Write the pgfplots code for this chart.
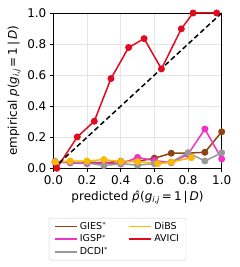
\documentclass[border=0pt]{standalone}
\usepackage{pgfplots}
\pgfplotsset{compat=1.18}
\usepackage{fontspec}
\setmainfont{DejaVu Sans}
\definecolor{cgies}{RGB}{139,69,19}
\definecolor{cigsp}{RGB}{240,50,200}
\definecolor{cdcdi}{RGB}{153,153,153}
\definecolor{cdibs}{RGB}{255,184,0}
\definecolor{cavici}{RGB}{225,10,30}
\tikzset{ser/.style={line width=1.5pt, mark=*, mark size=2.7pt, mark options={solid, fill=#1, draw=#1}, color=#1}}
\begin{document}
\begin{tikzpicture}
\begin{axis}[
  at={(0,0)}, anchor=south west,
  width=168.3pt, height=155.3pt, scale only axis,
  xmin=0, xmax=1, ymin=0, ymax=1,
  xtick={0,0.2,0.4,0.6,0.8,1.0}, ytick={0,0.2,0.4,0.6,0.8,1.0},
  /pgf/number format/assume math mode=true,
  /pgf/number format/fixed, /pgf/number format/fixed zerofill,
  /pgf/number format/precision=1,
  tick label style={font=\fontsize{12}{14}\selectfont},
  label style={font=\fontsize{12}{14}\selectfont},
  xtick pos=bottom, ytick pos=left, tick align=outside,
  major tick length=3.5pt,
  tick style={black, line width=0.8pt},
  axis line style={black, line width=0.8pt},
  grid=major, grid style={gray!20, line width=0.8pt},
  xlabel={predicted \textit{\^p}(\textit{g}\textsubscript{\textit{i},\textit{j}}\,=\,1\,|\,\textit{D})},
  ylabel={empirical \textit{p}(\textit{g}\textsubscript{\textit{i},\textit{j}}\,=\,1\,|\,\textit{D})},
  legend style={at={(0.381,-0.32)}, anchor=north, draw=gray!35, rounded corners=2pt,
    font=\fontsize{9.5}{11.5}\selectfont, inner xsep=5pt, inner ysep=2pt,
    /tikz/every even column/.append style={column sep=18pt}},
  legend columns=2, legend cell align=left,
  legend image code/.code={\draw[mark=none] (0pt,0pt) -- (22pt,0pt);},
]
\addlegendimage{color=cgies, line width=1.8pt}\addlegendentry{GIES$^*$}
\addlegendimage{color=cdibs, line width=1.8pt}\addlegendentry{DiBS}
\addlegendimage{color=cigsp, line width=1.8pt}\addlegendentry{IGSP$^*$}
\addlegendimage{color=cavici, line width=1.8pt}\addlegendentry{AVICI}
\addlegendimage{color=cdcdi, line width=1.8pt}\addlegendentry{DCDI$^*$}

\addplot[ser=cgies, forget plot] coordinates {(0.01,0.04) (0.1,0.04) (0.2,0.04) (0.3,0.035) (0.4,0.045) (0.5,0.045) (0.6,0.065) (0.7,0.097) (0.8,0.098) (0.9,0.103) (1.0,0.235)};
\addplot[ser=cigsp, forget plot] coordinates {(0.01,0.04) (0.1,0.035) (0.2,0.03) (0.3,0.035) (0.4,0.028) (0.5,0.07) (0.6,0.05) (0.7,0.036) (0.8,0.09) (0.9,0.253) (1.0,0.06)};
\addplot[ser=cdcdi, forget plot] coordinates {(0.01,0.045) (0.1,0.04) (0.2,0.035) (0.3,0.017) (0.4,0.03) (0.5,0.02) (0.6,0.03) (0.7,0.04) (0.8,0.1) (0.9,0.047) (1.0,0.1)};
\addplot[ser=cdibs, forget plot] coordinates {(0.01,0.04) (0.1,0.047) (0.2,0.047) (0.3,0.056) (0.4,0.043) (0.5,0.043) (0.62,0.03) (0.7,0.04) (0.82,0.068)};
\addplot[ser=cavici, forget plot] coordinates {(0.02,0.0) (0.142,0.202) (0.243,0.303) (0.342,0.578) (0.447,0.778) (0.539,0.835) (0.642,0.64) (0.76,0.898) (0.83,1.0) (0.97,1.0)};
\addplot[black, mark=none, line width=1.5pt, dash pattern=on 5pt off 3pt, forget plot] coordinates {(0,0) (1,1)};
\end{axis}
\pgfresetboundingbox
\path (-53.4pt,-98.7pt) rectangle (186.6pt,168.3pt);
\end{tikzpicture}
\end{document}
